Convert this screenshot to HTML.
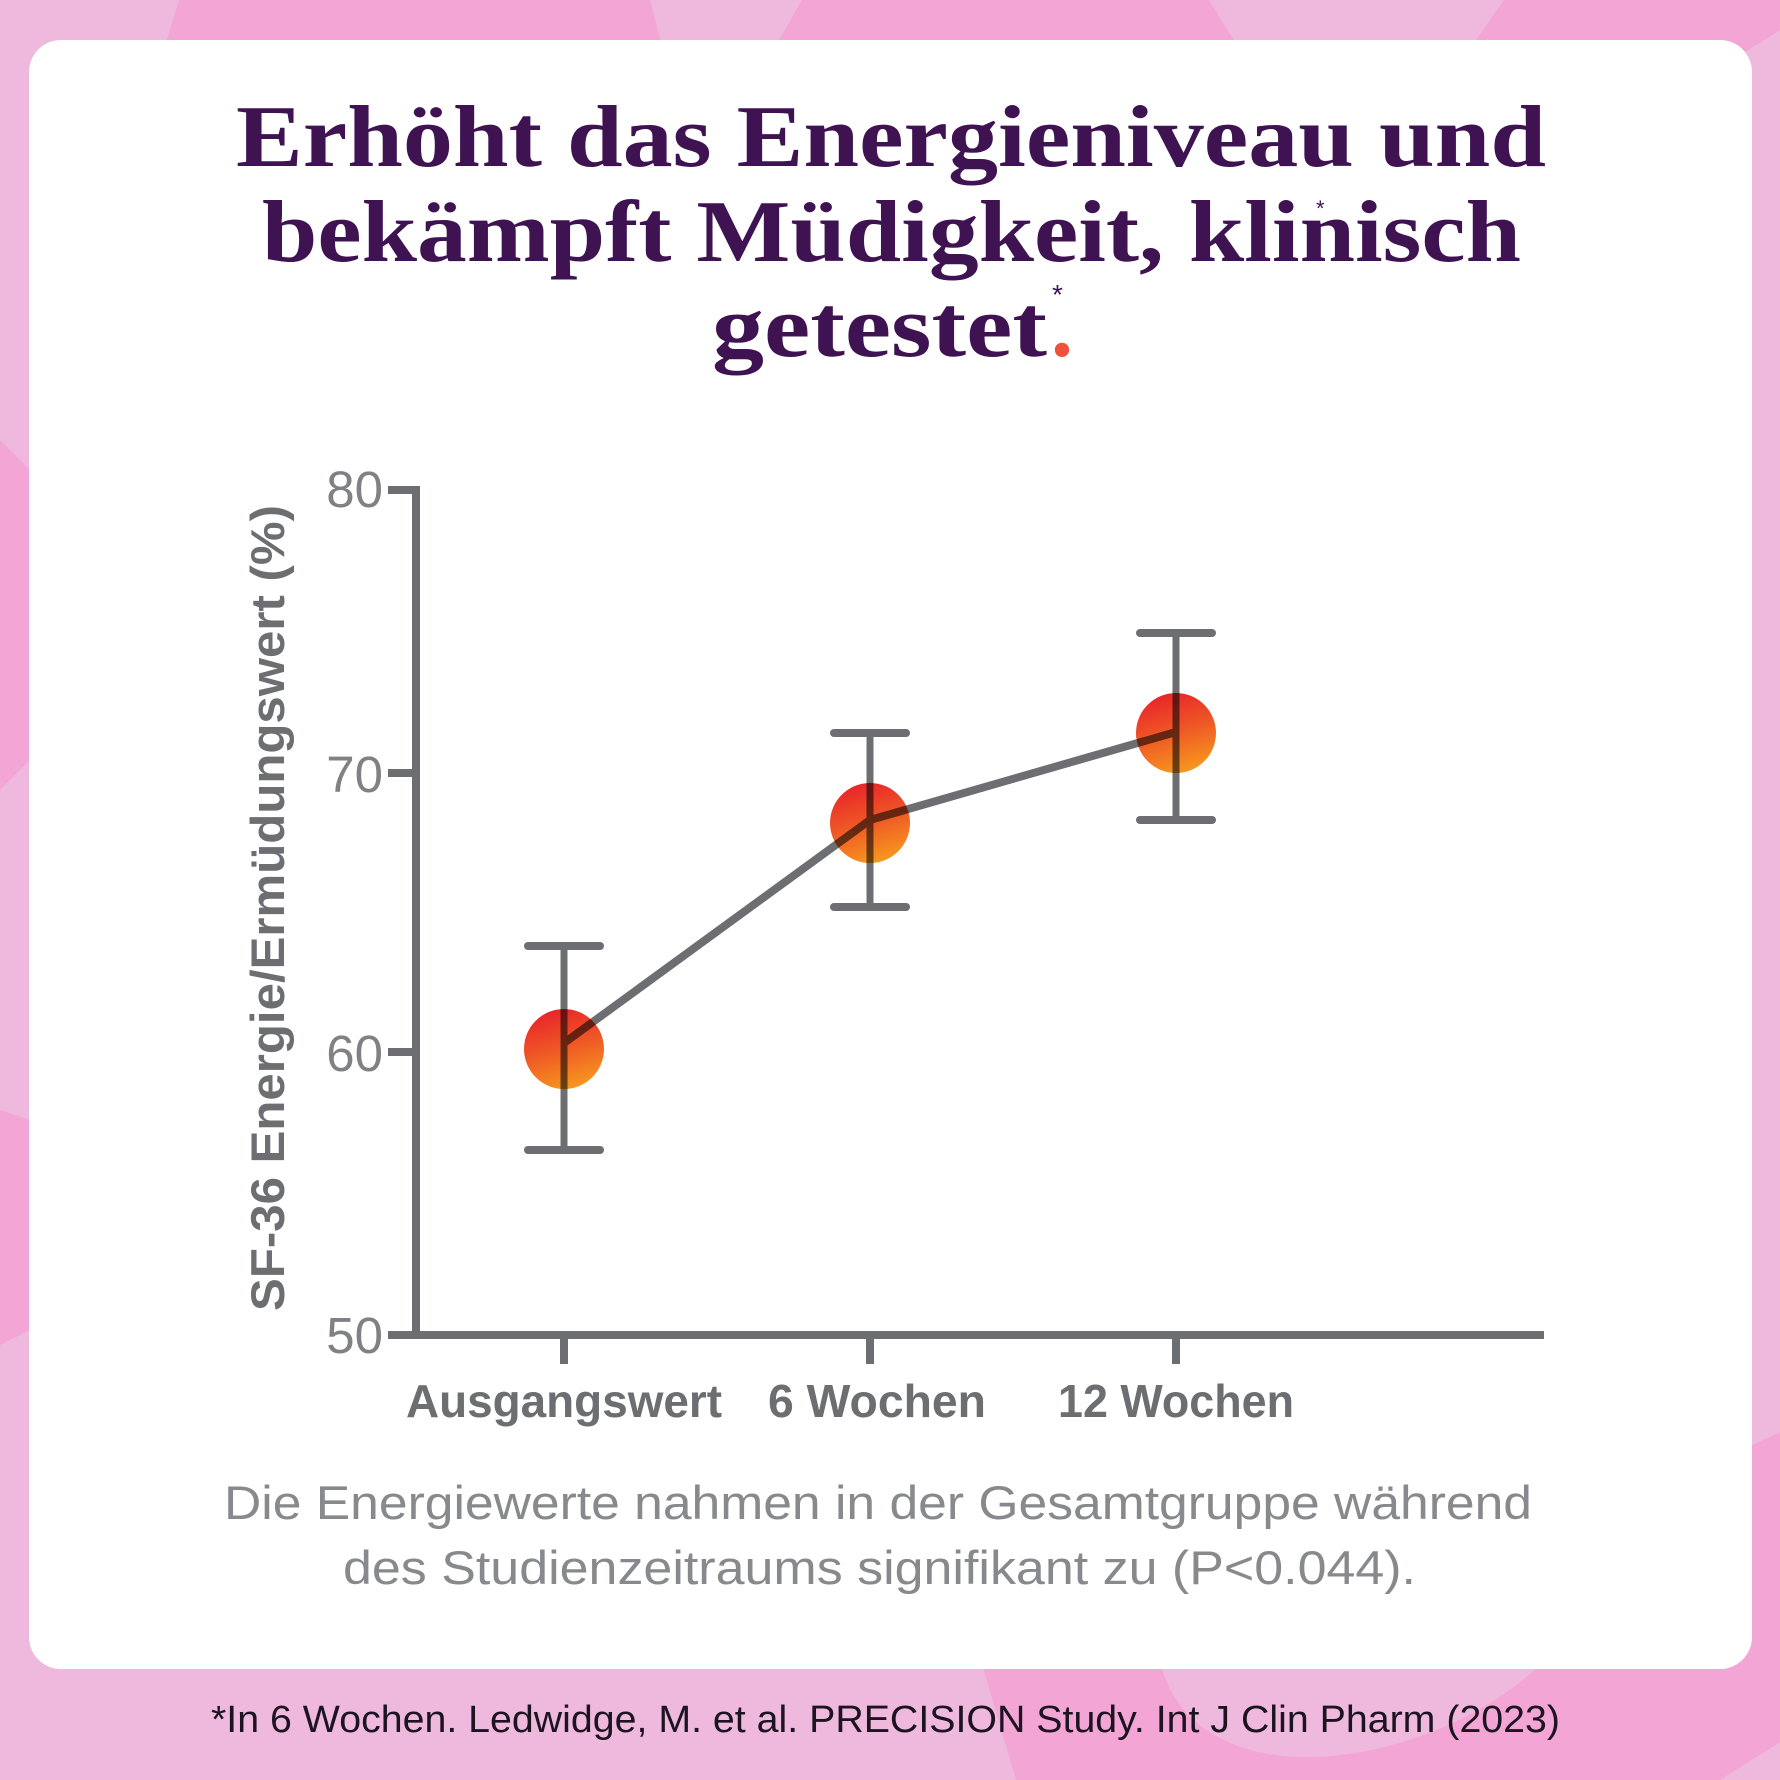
<!DOCTYPE html>
<html>
<head>
<meta charset="utf-8">
<style>
  html,body{margin:0;padding:0;background:#efb8dd;}
  body{width:1780px;height:1780px;overflow:hidden;}
  svg{display:block;}
</style>
</head>
<body>
<svg width="1780" height="1780" viewBox="0 0 1780 1780" xmlns="http://www.w3.org/2000/svg">
  <defs>
    <linearGradient id="dot" x1="0.35" y1="0" x2="0.65" y2="1">
      <stop offset="0" stop-color="#e8242a"/>
      <stop offset="0.5" stop-color="#ef5a25"/>
      <stop offset="1" stop-color="#f79a1e"/>
    </linearGradient>
  </defs>

  <!-- background -->
  <rect x="0" y="0" width="1780" height="1780" fill="#efb8dd"/>
  <g fill="#f3a5d5">
    <polygon points="179,0 650,0 668,70 158,70"/>
    <polygon points="802,0 1209,0 1252,70 762,70"/>
    <polygon points="1504,0 1780,0 1780,30 1745,52 1455,70"/>
    <polygon points="0,440 30,470 30,760 0,790"/>
    <polygon points="0,1110 30,1120 30,1330 0,1345"/>
    <path d="M978,1650 L1016,1780 L1720,1780 L1780,1742 L1780,1432 L1700,1470 L1700,1650 Z"/>
  </g>
  <path d="M1158,1650 C1170,1735 1250,1760 1317,1757 C1410,1752 1500,1710 1555,1650 Z" fill="#efb8dd"/>

  <!-- card -->
  <rect x="29" y="40" width="1723" height="1629" rx="32" ry="32" fill="#ffffff"/>

  <!-- title -->
  <g font-family="'Liberation Serif', serif" font-weight="bold" fill="#3f1351" font-size="88">
    <text x="236" y="166" textLength="1310" lengthAdjust="spacingAndGlyphs">Erhöht das Energieniveau und</text>
    <text x="262" y="261" textLength="1259" lengthAdjust="spacingAndGlyphs">bekämpft Müdigkeit, klinisch</text>
    <text x="712" y="356" textLength="335" lengthAdjust="spacingAndGlyphs">getestet</text>
  </g>
  <text x="1051" y="356" font-family="'Liberation Serif', serif" font-weight="bold" font-size="88" fill="#f0513a">.</text>
  <text x="1052" y="304" font-family="'Liberation Sans', sans-serif" font-size="28" fill="#3f1351">*</text>
  <text x="1316" y="216" font-family="'Liberation Sans', sans-serif" font-size="22" fill="#3f1351">*</text>

  <!-- y axis label -->
  <text transform="translate(284,908) rotate(-90)" x="0" y="0" text-anchor="middle"
        font-family="'Liberation Sans', sans-serif" font-weight="bold" font-size="47" fill="#6d6e72"
        textLength="806" lengthAdjust="spacingAndGlyphs">SF-36 Energie/Ermüdungswert (%)</text>

  <!-- tick labels -->
  <g font-family="'Liberation Sans', sans-serif" font-size="51" fill="#808185" text-anchor="end">
    <text x="383" y="507">80</text>
    <text x="383" y="792">70</text>
    <text x="383" y="1071">60</text>
    <text x="383" y="1353">50</text>
  </g>

  <!-- axes -->
  <g stroke="#6d6e72" stroke-width="8" fill="none">
    <line x1="416" y1="486" x2="416" y2="1339"/>
    <line x1="388" y1="1335" x2="1544" y2="1335"/>
    <line x1="388" y1="490" x2="416" y2="490"/>
    <line x1="388" y1="773" x2="416" y2="773"/>
    <line x1="388" y1="1052" x2="416" y2="1052"/>
    <line x1="564" y1="1335" x2="564" y2="1364"/>
    <line x1="870" y1="1335" x2="870" y2="1364"/>
    <line x1="1176" y1="1335" x2="1176" y2="1364"/>
  </g>

  <!-- markers -->
  <circle cx="564" cy="1049" r="40" fill="url(#dot)"/>
  <circle cx="870" cy="823" r="40" fill="url(#dot)"/>
  <circle cx="1176" cy="733" r="40" fill="url(#dot)"/>

  <!-- lines & error bars (multiply over markers) -->
  <g stroke="#6d6e72" fill="none" style="mix-blend-mode:multiply">
    <polyline points="564,1043 870,820 1176,732" stroke-width="8" stroke-linejoin="round"/>
    <g stroke-width="7">
      <line x1="564" y1="946" x2="564" y2="1150"/>
      <line x1="870" y1="733" x2="870" y2="907"/>
      <line x1="1176" y1="633" x2="1176" y2="820"/>
    </g>
    <g stroke-width="8" stroke-linecap="round">
      <line x1="528" y1="946" x2="600" y2="946"/>
      <line x1="528" y1="1150" x2="600" y2="1150"/>
      <line x1="834" y1="733" x2="906" y2="733"/>
      <line x1="834" y1="907" x2="906" y2="907"/>
      <line x1="1140" y1="633" x2="1212" y2="633"/>
      <line x1="1140" y1="820" x2="1212" y2="820"/>
    </g>
  </g>

  <!-- category labels -->
  <g font-family="'Liberation Sans', sans-serif" font-weight="bold" font-size="46" fill="#6d6e72">
    <text x="406" y="1417" textLength="316" lengthAdjust="spacingAndGlyphs">Ausgangswert</text>
    <text x="768" y="1417" textLength="218" lengthAdjust="spacingAndGlyphs">6 Wochen</text>
    <text x="1058" y="1417" textLength="236" lengthAdjust="spacingAndGlyphs">12 Wochen</text>
  </g>

  <!-- caption -->
  <g font-family="'Liberation Sans', sans-serif" font-size="47" fill="#88898d">
    <text x="224" y="1519" textLength="1308" lengthAdjust="spacingAndGlyphs">Die Energiewerte nahmen in der Gesamtgruppe während</text>
    <text x="343" y="1584" textLength="1073" lengthAdjust="spacingAndGlyphs">des Studienzeitraums signifikant zu (P&lt;0.044).</text>
  </g>

  <!-- footer -->
  <text x="211" y="1732" font-family="'Liberation Sans', sans-serif" font-size="38" fill="#1c1420"
        textLength="1349" lengthAdjust="spacingAndGlyphs">*In 6 Wochen. Ledwidge, M. et al. PRECISION Study. Int J Clin Pharm (2023)</text>
</svg>
</body>
</html>
